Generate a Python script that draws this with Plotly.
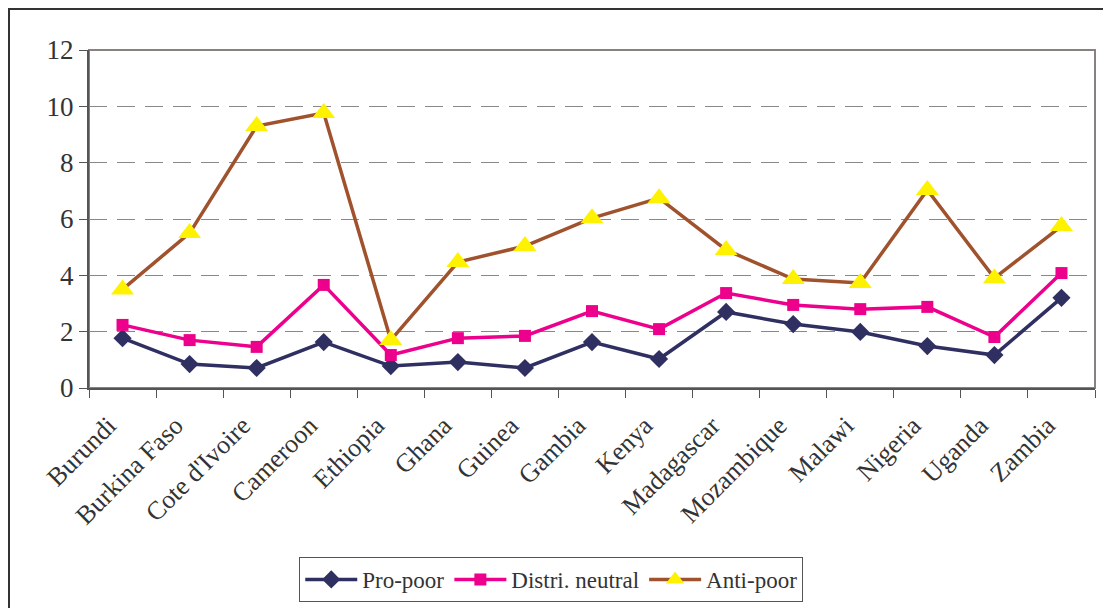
import plotly.graph_objects as go

countries = ["Burundi", "Burkina Faso", "Cote d'Ivoire", "Cameroon", "Ethiopia", "Ghana",
             "Guinea", "Gambia", "Kenya", "Madagascar", "Mozambique", "Malawi",
             "Nigeria", "Uganda", "Zambia"]
pro_poor = [1.77, 0.85, 0.71, 1.63, 0.78, 0.92, 0.71, 1.63, 1.03, 2.70, 2.27, 1.99, 1.49, 1.17, 3.20]
distri_neutral = [2.24, 1.70, 1.46, 3.66, 1.17, 1.77, 1.85, 2.73, 2.09, 3.37, 2.95, 2.80, 2.88, 1.81, 4.08]
anti_poor = [3.50, 5.50, 9.30, 9.76, 1.70, 4.47, 5.04, 6.03, 6.74, 4.90, 3.87, 3.73, 7.03, 3.90, 5.75]
y_ticks = [0, 2, 4, 6, 8, 10, 12]

W, H = 1103, 608
L, R, T, B = 89, 8, 50, 220

font = "Liberation Serif"

fig = go.Figure()
fig.add_trace(go.Scatter(
    x=countries, y=pro_poor, name="Pro-poor", mode="lines+markers",
    line=dict(color="#2F2F62", width=3.5),
    marker=dict(symbol="diamond", size=14, color="#2F2F62")))
fig.add_trace(go.Scatter(
    x=countries, y=distri_neutral, name="Distri. neutral", mode="lines+markers",
    line=dict(color="#EC008C", width=3.5),
    marker=dict(symbol="square", size=12, color="#EC008C")))
fig.add_trace(go.Scatter(
    x=countries, y=anti_poor, name="Anti-poor", mode="lines+markers",
    line=dict(color="#A0522D", width=3.5),
    marker=dict(symbol="triangle-up", size=20, color="#FFF200")))

# plot-area frame (top/right in grey) and outer chart frame
fig.add_shape(type="rect", xref="paper", yref="paper", x0=0, x1=1, y0=0, y1=1,
              line=dict(color="#8A8080", width=2), layer="below")
fig.add_shape(type="rect", xref="paper", yref="paper",
              x0=(9 - L) / (W - L - R), x1=(1110 - L) / (W - L - R),
              y0=-(620 - (H - B)) / (H - T - B), y1=1 + (T - 9) / (H - T - B),
              line=dict(color="#333333", width=2))

fig.update_layout(
    width=W, height=H,
    margin=dict(l=L, r=R, t=T, b=B, autoexpand=False),
    paper_bgcolor="white", plot_bgcolor="white",
    font=dict(family=font, size=23, color="#333333"),
    showlegend=True,
    legend=dict(orientation="h", x=0.4595, xanchor="center", y=-0.50, yanchor="top",
                bordercolor="#555555", borderwidth=1, font=dict(size=23, family=font, color="#333333"),
                itemwidth=52, tracegroupgap=0),
    xaxis=dict(
        tickangle=-45, showgrid=False, ticks="outside", ticklen=8, tickcolor="#555555",
        tickson="boundaries", showline=True, linecolor="#555555", linewidth=2,
        tickfont=dict(size=26, family=font, color="#333333"), automargin=False,
        ticklabelshift=-14, ticklabelstandoff=10,
        range=[-0.5, 14.5]),
    yaxis=dict(
        range=[0, 12], tickvals=y_ticks, showgrid=True, gridcolor="#888888",
        griddash="18px,10px", gridwidth=1, ticks="outside", ticklen=8, tickcolor="#555555",
        showline=True, linecolor="#555555", linewidth=2, zeroline=False, automargin=False,
        tickfont=dict(size=27, family=font, color="#333333")),
)

fig.write_html("out.html")
